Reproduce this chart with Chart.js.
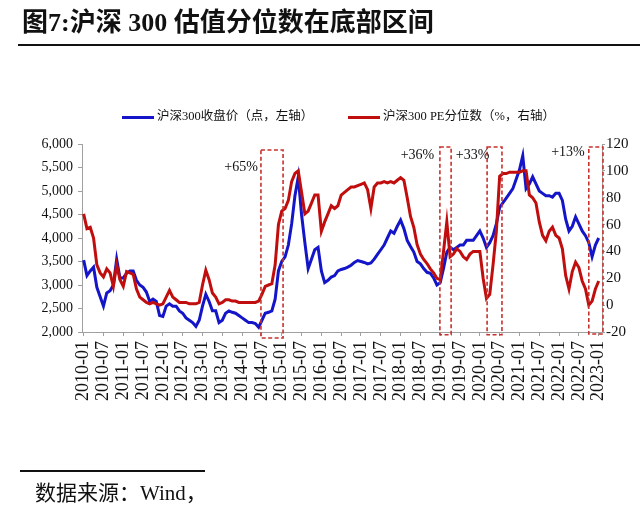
<!DOCTYPE html>
<html>
<head>
<meta charset="utf-8">
<script src="https://cdn.jsdelivr.net/npm/chart.js@4.4.0/dist/chart.umd.min.js"></script>
<style>
  body { margin: 0; background: #fff; }
  #wrap { position: relative; width: 640px; height: 510px; overflow: hidden;
          font-family: "Liberation Serif", "Noto Sans CJK SC", serif; color: #111; }
  canvas { position: absolute; left: 0; top: 0; }
  .title { position: absolute; left: 22px; top: 6px; font-size: 26px; font-weight: bold;
           line-height: 34px; white-space: nowrap; }
  .rule { position: absolute; left: 18px; top: 44px; width: 622px; height: 2px; background: #111; }
  .legend { position: absolute; top: 106px; line-height: 20px; font-size: 12.5px; white-space: nowrap; }
  .legend i { display: inline-block; width: 32px; height: 3px; vertical-align: middle; margin-right: 3px; }
  .srcline { position: absolute; left: 20px; top: 470px; width: 185px; height: 1.5px; background: #111; }
  .src { position: absolute; left: 35px; top: 481px; font-size: 21px; line-height: 24px; white-space: nowrap; }
</style>
</head>
<body>
<div id="wrap">
  <canvas id="chart" width="640" height="510"></canvas>
  <div class="title">图7:沪深 300 估值分位数在底部区间</div>
  <div class="rule"></div>
  <div class="legend" style="left:122px"><i style="background:#1414c8"></i>沪深300收盘价（点，左轴）</div>
  <div class="legend" style="left:348px"><i style="background:#c00d0d"></i>沪深300 PE分位数（%，右轴）</div>
  <div class="srcline"></div>
  <div class="src">数据来源：Wind，</div>
</div>
<script>
// monthly, 2010-01 .. 2023-01
const tickLabels = ["2010-01", "2010-07", "2011-01", "2011-07", "2012-01", "2012-07", "2013-01",
  "2013-07", "2014-01", "2014-07", "2015-01", "2015-07", "2016-01", "2016-07", "2017-01", "2017-07",
  "2018-01", "2018-07", "2019-01", "2019-07", "2020-01", "2020-07", "2021-01", "2021-07", "2022-01",
  "2022-07", "2023-01"];

const hs300Close = [
  3530, 3200, 3300, 3380, 2950, 2750, 2550, 2830, 2880, 3000, 3550, 3150,
  3150, 3250, 3300, 3300, 3100, 3000, 2950, 2850, 2650, 2700, 2650, 2350,
  2330, 2550, 2600, 2550, 2550, 2450, 2400, 2300, 2250, 2200, 2120, 2250,
  2550, 2800, 2650, 2450, 2450, 2200, 2250, 2400, 2450, 2420, 2400, 2350,
  2300, 2250, 2200, 2200, 2180, 2100, 2250, 2400, 2420, 2450, 2700, 3300,
  3500, 3600, 3850, 4300, 4900, 5300, 4500, 3900, 3350, 3550, 3750, 3800,
  3300, 3050, 3100, 3170, 3200, 3300, 3330, 3350, 3380, 3420, 3480, 3520,
  3500, 3480, 3450, 3470, 3550, 3650, 3750, 3850, 4000, 4150, 4100, 4250,
  4380, 4200, 3950, 3820, 3700, 3500, 3450, 3350, 3270, 3250, 3150, 3000,
  3050, 3350, 3700, 3800, 3750, 3800, 3850, 3850, 3950, 3950, 3950, 4050,
  4150, 4000, 3800, 3900, 4050, 4300, 4650, 4750, 4850, 4950, 5050, 5250,
  5450, 5750, 5050, 5150, 5300, 5150, 5000, 4950, 4900, 4900, 4870, 4950,
  4950, 4800, 4400, 4150, 4250, 4450, 4300, 4150, 4050, 3900, 3600, 3850,
  4000
];

const pePercentile = [
  68, 57, 58, 50, 30, 24, 21, 27, 24, 14, 30, 19,
  14, 25, 24, 23, 12, 6, 4, 2, 1, 2, 1, 0,
  1, 6, 11, 6, 4, 2, 2, 2, 1, 1, 1, 2,
  15, 26, 19, 9, 6, 1, 2, 4, 4, 3, 3, 2,
  2, 2, 2, 2, 2, 3, 8, 14, 15, 16, 30, 60,
  70, 72, 78, 92, 98, 100, 84, 68, 70, 76, 82, 82,
  55, 62, 68, 74, 72, 74, 82, 84, 86, 88, 88, 89,
  90, 91, 86, 72, 88, 91, 91, 92, 91, 92, 91, 93,
  95, 93, 80, 66, 58, 45, 38, 34, 31, 27, 24, 20,
  19, 40, 62, 36, 38, 42, 40, 36, 34, 38, 40, 40,
  40, 20, 5, 8, 30, 55, 96, 98, 98, 99, 99, 99,
  99, 100, 100, 82, 80, 76, 62, 52, 48, 55, 58, 52,
  50, 42, 22, 12, 25, 32, 28, 18, 12, 0, 3, 12,
  18
];

// dashed boxes (month index from 2010-01, right-axis values)
const zoneLabels = ["+65%", "+36%", "+33%", "+13%"];
const zoneFrom = [53.7, 107.9, 122.2, 153.0];
const zoneTo = [60.4, 111.3, 126.7, 157.3];
const zoneTop = [115.5, 117.8, 117.8, 117.8];
const zoneBottom = [-24.5, -22, -22, -21.5];
const labelAt = [47.7, 101.1, 117.8, 146.7];
const labelY = [102.9, 111.8, 111.8, 114];

const zoneBoxes = {
  id: "zoneBoxes",
  afterDatasetsDraw(chart) {
    const { ctx, scales: { x, y1 } } = chart;
    ctx.save();
    ctx.strokeStyle = "#c8302c";
    ctx.lineWidth = 1.6;
    ctx.setLineDash([4, 2.5]);
    zoneFrom.forEach((from, i) => {
      const left = x.getPixelForValue(from);
      const right = x.getPixelForValue(zoneTo[i]);
      const top = y1.getPixelForValue(zoneTop[i]);
      const bottom = y1.getPixelForValue(zoneBottom[i]);
      ctx.strokeRect(left, top, right - left, bottom - top);
    });
    ctx.setLineDash([]);
    ctx.fillStyle = "#111";
    ctx.font = '14px "Liberation Serif"';
    ctx.textAlign = "center";
    ctx.textBaseline = "middle";
    zoneLabels.forEach((t, i) => {
      ctx.fillText(t, x.getPixelForValue(labelAt[i]), y1.getPixelForValue(labelY[i]));
    });
    ctx.restore();
  }
};

const axisColor = "#a0a0a0";
const tickFont = { family: "Liberation Serif", size: 14 };

new Chart(document.getElementById("chart"), {
  type: "line",
  data: {
    datasets: [
      {
        label: "沪深300 PE分位数（%，右轴）",
        data: pePercentile.map((v, i) => ({ x: i, y: v })),
        yAxisID: "y1",
        borderColor: "#c00d0d",
        borderWidth: 3,
        pointRadius: 0,
        order: 0,
      },
      {
        label: "沪深300收盘价（点，左轴）",
        data: hs300Close.map((v, i) => ({ x: i, y: v })),
        yAxisID: "y",
        borderColor: "#1414c8",
        borderWidth: 3,
        pointRadius: 0,
        order: 1,
      },
    ],
  },
  options: {
    responsive: false,
    animation: false,
    devicePixelRatio: 1,
    layout: { padding: { top: 144, left: 0, right: 0, bottom: 0 } },
    plugins: { legend: { display: false }, tooltip: { enabled: false } },
    scales: {
      x: {
        type: "linear",
        min: -0.5,
        max: 157,
        afterBuildTicks: (scale) => {
          scale.ticks = tickLabels.map((_, i) => ({ value: i * 6 }));
        },
        afterFit: (scale) => { scale.height = 178; },
        ticks: {
          autoSkip: false,
          minRotation: 90,
          maxRotation: 90,
          padding: 5,
          color: "#111",
          font: { family: "Liberation Serif", size: 18 },
          callback: (v) => tickLabels[v / 6],
        },
        grid: { drawOnChartArea: false, tickLength: 4, color: axisColor },
        border: { color: axisColor },
      },
      y: {
        position: "left",
        min: 2000,
        max: 6000,
        afterFit: (scale) => { scale.width = 82; },
        ticks: {
          stepSize: 500,
          padding: 5,
          color: "#111",
          font: tickFont,
          callback: (v) => v.toLocaleString("en-US"),
        },
        grid: { drawOnChartArea: false, tickLength: 4, color: axisColor },
        border: { color: axisColor },
      },
      y1: {
        position: "right",
        min: -20,
        max: 120,
        afterFit: (scale) => { scale.width = 38; },
        ticks: {
          stepSize: 20,
          padding: 1,
          color: "#111",
          font: { family: "Liberation Serif", size: 15 },
        },
        grid: { drawOnChartArea: false, tickLength: 3, color: axisColor },
        border: { color: axisColor },
      },
    },
  },
  plugins: [zoneBoxes],
});
</script>
</body>
</html>
